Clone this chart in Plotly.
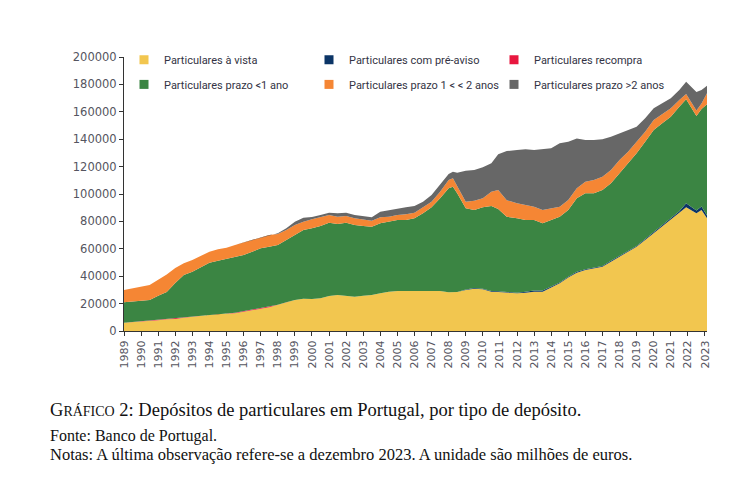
import plotly.graph_objects as go

# observation dates (fractional years) and deposit stocks, EUR millions
t = [1989.0, 1989.5, 1990.0, 1990.5, 1991.0, 1991.5, 1992.0, 1992.5, 1993.0, 1993.5,
     1994.0, 1994.5, 1995.0, 1995.5, 1996.0, 1996.5, 1997.0, 1997.5, 1998.0, 1998.5,
     1999.0, 1999.5, 2000.0, 2000.5, 2001.0, 2001.5, 2002.0, 2002.5, 2003.0, 2003.5,
     2004.0, 2004.5, 2005.0, 2005.5, 2006.0, 2006.5, 2007.0, 2007.5, 2008.0, 2008.25,
     2008.5, 2009.0, 2009.5, 2010.0, 2010.5, 2010.9, 2011.4, 2012.0, 2012.5, 2013.0,
     2013.5, 2014.0, 2014.5, 2015.0, 2015.5, 2016.0, 2016.5, 2017.0, 2017.5, 2018.0,
     2018.5, 2019.0, 2019.5, 2020.0, 2020.5, 2021.0, 2021.5, 2021.9, 2022.5, 2022.8,
     2023.12]

vista = [6000, 6400, 6800, 7100, 7800, 8500, 8800, 9700, 10200, 11000,
         11700, 12400, 12500, 12900, 14000, 15300, 16300, 17300, 19000, 20700,
         22600, 23500, 23300, 23900, 25500, 26300, 25800, 25000, 25800, 26300,
         27500, 28700, 29200, 29200, 29200, 29200, 29200, 29200, 28300, 28300,
         28500, 29900, 30900, 30400, 28700, 28500, 28000, 27500, 28000, 28700,
         28700, 31500, 34800, 39000, 42600, 44500, 45800, 46900, 50600, 54200,
         57900, 61500, 66400, 71300, 76100, 81000, 85900, 90300, 86000, 88300,
         82300]

pre_aviso = [0, 0, 0, 0, 0, 0, 0, 0, 0, 0,
             0, 0, 0, 0, 0, 0, 0, 0, 0, 0,
             0, 0, 0, 0, 0, 0, 0, 0, 0, 0,
             0, 0, 0, 0, 0, 0, 0, 0, 0, 0,
             0, 400, 400, 500, 500, 500, 500, 500, 600, 800,
             800, 700, 600, 600, 600, 600, 600, 600, 600, 600,
             600, 600, 700, 800, 900, 1200, 1500, 3000, 2000, 2500,
             2000]

recompra = [0, 200, 300, 300, 500, 500, 400, 300, 300, 300,
            300, 300, 300, 400, 400, 300, 300, 300, 200, 200,
            100, 100, 0, 0, 0, 0, 0, 0, 0, 0,
            0, 0, 0, 0, 0, 0, 0, 0, 0, 0,
            0, 0, 0, 0, 0, 0, 0, 0, 0, 0,
            0, 0, 0, 0, 0, 0, 0, 0, 0, 0,
            0, 0, 0, 0, 0, 0, 0, 0, 0, 0,
            0]

prazo_1 = [15000, 14800, 15000, 15200, 17500, 19500, 25800, 30900, 32800, 35200,
           37900, 38600, 39800, 40900, 41100, 42300, 43800, 43900, 43600, 45500,
           47400, 50100, 51700, 52700, 53600, 51800, 53300, 52400, 50800, 49800,
           51100, 51100, 51800, 51800, 53100, 56700, 61100, 67700, 75900, 77000,
           72000, 59300, 57000, 59400, 62000, 60000, 54900, 54300, 52400, 51500,
           49100, 48800, 48000, 48700, 53700, 55400, 54100, 55400, 56600, 60300,
           63900, 67600, 71100, 74600, 74600, 74200, 76300, 75800, 69000, 71200,
           81200]

prazo_1_2 = [9000, 9800, 9800, 11000, 11600, 12800, 11000, 8500, 8500, 8200,
             8000, 8300, 8200, 8600, 9000, 8500, 8000, 8600, 8000, 7300,
             7300, 6100, 6500, 6400, 5600, 5300, 4900, 4900, 4900, 4400,
             4400, 3600, 3700, 4200, 4100, 4400, 4100, 4800, 6000, 6200,
             5400, 4800, 6800, 6600, 10500, 14000, 12100, 10900, 11000, 9700,
             9700, 8600, 7300, 7300, 7300, 8500, 9700, 9700, 9700, 9700,
             8500, 8500, 7300, 7300, 6600, 6200, 4900, 3900, 4000, 4000,
             8000]

prazo_2 = [0, 0, 0, 0, 0, 0, 0, 0, 0, 0,
           0, 0, 0, 0, 0, 0, 0, 0, 500, 1300,
           2400, 2900, 1800, 1700, 1700, 2500, 2400, 2400, 2500, 2500,
           4100, 4900, 4800, 5100, 4800, 4100, 4900, 4900, 4400, 4800,
           9700, 22600, 22400, 22600, 20700, 26000, 35800, 38900, 40600, 41400,
           44300, 43800, 46300, 42600, 36400, 30400, 29200, 27300, 24300, 19500,
           15800, 10900, 9800, 8600, 8000, 7300, 7300, 9000, 13500, 10000,
           5500]

anos = list(range(1989, 2024))

series = [
    ("Particulares à vista", vista, "#F2C64F", "legend"),
    ("Particulares com pré-aviso", pre_aviso, "#0B3466", "legend"),
    ("Particulares recompra", recompra, "#E8173F", "legend"),
    ("Particulares prazo <1 ano", prazo_1, "#3B8543", "legend2"),
    ("Particulares prazo 1 < < 2 anos", prazo_1_2, "#F58634", "legend2"),
    ("Particulares prazo >2 anos", prazo_2, "#676767", "legend2"),
]

fig = go.Figure()

for name, vals, color, leg in series:
    fig.add_trace(go.Scatter(
        x=t, y=vals, name=name, stackgroup="one",
        mode="lines", line=dict(width=0, color=color),
        fillcolor=color, showlegend=False,
        hovertemplate="%{y}<extra>" + name + "</extra>"
    ))

# square legend markers
for name, vals, color, leg in series:
    fig.add_trace(go.Scatter(
        x=[None], y=[None], name=name, mode="markers",
        marker=dict(symbol="square", size=9, color=color),
        legend=leg, showlegend=True
    ))

legend_font = dict(family="Roboto, sans-serif", size=11, color="#333344")
legend_common = dict(orientation="h", xanchor="left", yanchor="middle",
                     x=0.0, entrywidth=140, entrywidthmode="pixels",
                     itemwidth=30, bgcolor="rgba(0,0,0,0)", font=legend_font,
                     traceorder="normal")

tick_font = dict(family="DejaVu Sans, sans-serif", size=11, color="#555560")

# the page body adds an 8 px offset, margins below account for it
fig.update_layout(
    width=735, height=490,
    margin=dict(l=116, r=36, t=49, b=167, autoexpand=False),
    paper_bgcolor="white", plot_bgcolor="white",
    legend=dict(y=0.99, **legend_common),
    legend2=dict(y=0.90, **legend_common),
    hovermode="x",
)

fig.update_xaxes(
    range=[1989, 2023.12], tickvals=anos, ticktext=[str(a) for a in anos],
    tickangle=-90, ticks="outside", ticklen=4, tickcolor="#333333",
    showline=True, linecolor="#333333", linewidth=1, showgrid=False,
    zeroline=False, tickfont=tick_font
)
fig.update_yaxes(
    range=[0, 200000], dtick=20000, tickformat="d",
    ticks="outside", ticklen=4, tickcolor="#333333",
    showline=True, linecolor="#333333", linewidth=1, showgrid=False,
    zeroline=False, tickfont=dict(family="DejaVu Sans, sans-serif", size=11.5, color="#555560")
)

serif = "Liberation Serif, DejaVu Serif, serif"
fig.add_annotation(
    text='G<span style="font-size:14px">RÁFICO</span> 2: Depósitos de particulares em Portugal, por tipo de depósito.',
    xref="paper", yref="paper", x=-0.130, y=-0.288, xanchor="left", yanchor="middle",
    showarrow=False, font=dict(family=serif, size=18.5, color="#111111")
)
fig.add_annotation(
    text="Fonte: Banco de Portugal.",
    xref="paper", yref="paper", x=-0.130, y=-0.385, xanchor="left", yanchor="middle",
    showarrow=False, font=dict(family=serif, size=16, color="#111111")
)
fig.add_annotation(
    text="Notas: A última observação refere-se a dezembro 2023. A unidade são milhões de euros.",
    xref="paper", yref="paper", x=-0.130, y=-0.451, xanchor="left", yanchor="middle",
    showarrow=False, font=dict(family=serif, size=16.5, color="#111111")
)

fig.write_html("out.html")
